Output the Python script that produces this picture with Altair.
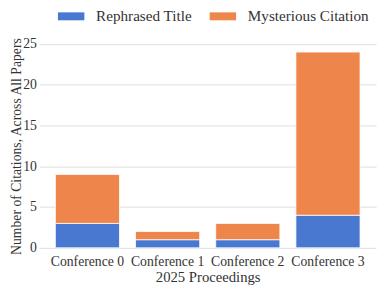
import altair as alt
import pandas as pd

conferences = ["Conference 0", "Conference 1", "Conference 2", "Conference 3"]
rephrased = [3, 1, 1, 4]
mysterious = [6, 1, 2, 20]
series = ["Rephrased Title", "Mysterious Citation"]
colors = ["#4878d0", "#ee854a"]

rows = []
for c, r, m in zip(conferences, rephrased, mysterious):
    rows.append({"conf": c, "series": series[0], "value": r, "order": 0})
    rows.append({"conf": c, "series": series[1], "value": m, "order": 1})
df = pd.DataFrame(rows)

FONT = "Liberation Serif"
FS = 14
TFS = 14

chart = alt.Chart(df).mark_bar(stroke="white", strokeWidth=0.8).encode(
    x=alt.X("conf:N", sort=conferences,
            scale=alt.Scale(paddingInner=0.2, paddingOuter=0.2),
            axis=alt.Axis(title="2025 Proceedings", labelAngle=0, domain=False, ticks=False,
                          labelFont=FONT, titleFont=FONT, titleFontSize=15,
                          labelPadding=7, titlePadding=1)),
    y=alt.Y("value:Q", stack="zero",
            scale=alt.Scale(domain=[0, 25.2], nice=False),
            axis=alt.Axis(title="Number of Citations, Across All Papers", values=[0, 5, 10, 15, 20, 25],
                          domain=False, ticks=False, labelPadding=3,
                          labelFont=FONT, titleFont=FONT,
                          titleX=-19, titleY=106, titleBaseline="alphabetic",
                          gridColor="#dddddd")),
    color=alt.Color("series:N", sort=series,
                    scale=alt.Scale(domain=series, range=colors),
                    legend=alt.Legend(title=None, orient="none", direction="horizontal",
                                      legendX=19, legendY=-40,
                                      symbolType="M-1,-0.3L1,-0.3L1,0.3L-1,0.3Z",
                                      symbolSize=729, symbolStrokeWidth=0,
                                      symbolOpacity=1, labelOffset=12,
                                      columnPadding=17, labelFontSize=15.5,
                                      labelFont=FONT, labelColor="#333333")),
    order=alt.Order("order:Q"),
).properties(
    width=344, height=210,
    autosize=alt.AutoSizeParams(type="none"),
    padding={"left": 32, "top": 32, "right": 4, "bottom": 38},
).configure(font=FONT).configure_view(stroke=None).configure_axis(
    labelFont=FONT, titleFont=FONT, labelFontSize=FS, titleFontSize=TFS,
    labelColor="#333333", titleColor="#333333", titleFontWeight="normal",
).configure_legend(labelFont=FONT)

chart.save("out.html", embed_options={"renderer": "svg", "actions": False})
